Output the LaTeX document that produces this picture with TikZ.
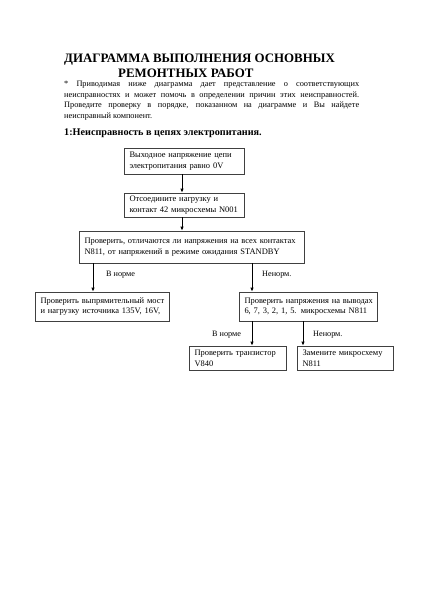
\documentclass[tikz,border=0pt]{standalone}
\usepackage{fontspec}
\setmainfont{Liberation Serif}
\usetikzlibrary{arrows.meta}
\tikzset{
  box/.style={draw=black!75, line width=0.7pt, inner xsep=5.5pt, inner ysep=1pt, align=left, font=\fontsize{8.45}{10.7}\selectfont, anchor=center},
  arr/.style={draw=black, line width=0.8pt, -{Latex[length=4pt,width=3.5pt]}},
  lbl/.style={font=\fontsize{8.2}{9}\selectfont, anchor=west, inner sep=0pt},
  para/.style={anchor=west, inner sep=0pt, font=\fontsize{8.3}{10}\selectfont},
  ttl/.style={anchor=west, inner sep=0pt, font=\fontsize{12.9}{14}\selectfont\bfseries},
}
\begin{document}
\begin{tikzpicture}[x=1pt,y=-1pt]
\useasboundingbox (0,0) rectangle (423,600);
\fill[white] (0,0) rectangle (423,600);
% title
\node[ttl] (t1) at (64,60) {ДИАГРАММА ВЫПОЛНЕНИЯ ОСНОВНЫХ};
\node[ttl] (t2) at (118,73) {РЕМОНТНЫХ РАБОТ};
% paragraph
\node[para] (p1) at (64,85) {\makebox[295pt][s]{* Приводимая ниже диаграмма дает представление о соответствующих}};
\node[para] (p2) at (64,95.5) {\makebox[295pt][s]{неисправностях и может помочь в определении причин этих неисправностей.}};
\node[para] (p3) at (64,106) {\makebox[295pt][s]{Проведите проверку в порядке, показанном на диаграмме и Вы найдете}};
\node[para] (p4) at (64,116.5) {неисправный компонент.};
% heading
\node[anchor=west, inner sep=0pt, font=\fontsize{10.2}{11}\selectfont\bfseries] (h) at (64,133) {1:Неисправность в цепях электропитания.};
% boxes
\node[box, minimum width=120pt, minimum height=26pt, text width=109pt] (b1) at (184,161) {\mbox{Выходное напряжение цепи}\\\mbox{электропитания равно 0V}};
\node[box, minimum width=120pt, minimum height=24pt, text width=109pt] (b2) at (184,205) {\mbox{Отсоедините нагрузку и}\\\mbox{контакт 42 микросхемы N001}};
\node[box, minimum width=225pt, minimum height=32pt, text width=214pt] (b3) at (191.5,247) {\mbox{Проверить, отличаются ли напряжения на всех контактах}\\\mbox{N811, от напряжений в режиме ожидания STANDBY}};
\node[box, minimum width=134pt, minimum height=29pt, text width=123pt] (b4) at (102,306.5) {\mbox{Проверить выпрямительный мост}\\\mbox{и нагрузку источника 135V, 16V,}};
\node[box, minimum width=138pt, minimum height=29pt, text width=127pt] (b5) at (308,306.5) {\mbox{Проверить напряжения на выводах}\\\mbox{6, 7, 3, 2, 1, 5. микросхемы N811}};
\node[box, minimum width=97pt, minimum height=24pt, text width=86pt] (b6) at (237.5,358) {\mbox{Проверить транзистор}\\\mbox{V840}};
\node[box, minimum width=96pt, minimum height=24pt, text width=85pt] (b7) at (345,358) {\mbox{Замените микросхему}\\\mbox{N811}};
% arrow columns
\coordinate (c1) at (182,0);
\coordinate (c2) at (93,0);
\coordinate (c3) at (252,0);
\coordinate (c4) at (303,0);
\draw[arr] (b1.south -| c1) -- (b2.north -| c1);
\draw[arr] (b2.south -| c1) -- (b3.north -| c1);
\draw[arr] (b3.south -| c2) -- (b4.north -| c2);
\draw[arr] (b3.south -| c3) -- (b5.north -| c3);
\draw[arr] (b5.south -| c3) -- (b6.north -| c3);
\draw[arr] (b5.south -| c4) -- (b7.north -| c4);
% labels
\node[lbl] (l1) at (106,275) {В норме};
\node[lbl] (l2) at (262,275) {Ненорм.};
\node[lbl] (l3) at (212,335) {В норме};
\node[lbl] (l4) at (313,335) {Ненорм.};
\end{tikzpicture}
\end{document}
